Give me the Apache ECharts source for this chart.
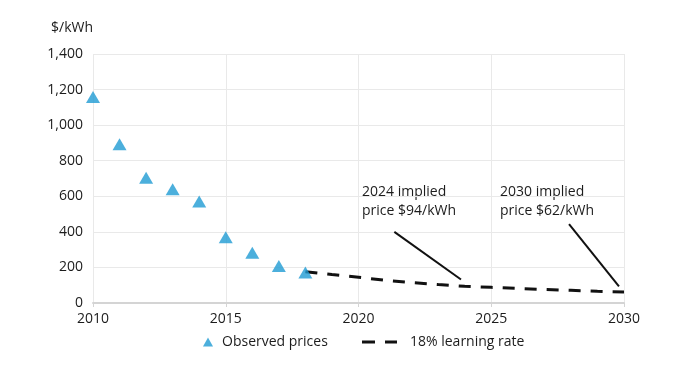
<!DOCTYPE html>
<html><head><meta charset="utf-8">
<script src="https://cdn.jsdelivr.net/npm/echarts@6/dist/echarts.min.js"></script>
<style>html,body{margin:0;padding:0;background:#fff}#c{width:680px;height:374px}</style>
</head><body><div id="c"></div>
<script>
const observedYears = [2010, 2011, 2012, 2013, 2014, 2015, 2016, 2017, 2018];
const observedPrices = [1158, 893, 704, 640, 571, 370, 282, 208, 171];
const learningYears = [2018, 2019, 2020, 2021, 2022, 2023, 2024, 2025, 2026, 2027, 2028, 2029, 2030];
const learningPrices = [176, 160, 145, 128, 115, 104, 94, 88, 82, 76, 71, 66, 62];
const xTicks = [2010, 2015, 2020, 2025, 2030];
const yTicks = [0, 200, 400, 600, 800, 1000, 1200, 1400];
const annotationTexts = ['2024 implied\nprice $94/kWh', '2030 implied\nprice $62/kWh'];
const pointerLines = [
  [[2021.35, 400], [2023.86, 132]],
  [[2027.93, 443], [2029.81, 94]]
];

const FONT = 'Open Sans';
const TXT = '#1c1c1c';
const chart = echarts.init(document.getElementById('c'), null, {renderer: 'canvas'});
chart.setOption({
  animation: false,
  backgroundColor: '#fff',
  textStyle: {fontFamily: FONT, color: TXT},
  grid: {left: 93, right: 56, top: 54, bottom: 71},
  xAxis: {
    type: 'value', min: xTicks[0], max: xTicks[xTicks.length - 1], interval: 5,
    axisLine: {show: true, lineStyle: {color: '#d4d4d4', width: 2}},
    axisTick: {show: true, length: 4, lineStyle: {color: '#d4d4d4'}},
    axisLabel: {margin: 9, fontSize: 14, color: TXT, fontFamily: FONT, formatter: v => String(v)},
    splitLine: {show: true, lineStyle: {color: '#e9e9e9', width: 1}}
  },
  yAxis: {
    type: 'value', min: yTicks[0], max: yTicks[yTicks.length - 1], interval: 200,
    name: '$/kWh', nameLocation: 'end', nameGap: 19,
    nameTextStyle: {align: 'right', fontSize: 14, color: TXT, fontFamily: FONT},
    axisLine: {show: false}, axisTick: {show: false},
    axisLabel: {margin: 10, fontSize: 14, color: TXT, fontFamily: FONT,
      formatter: v => v.toLocaleString('en-US')},
    splitLine: {show: true, lineStyle: {color: '#e9e9e9', width: 1}}
  },
  legend: [
    {data: [{name: 'Observed prices', icon: 'triangle'}], left: 198, top: 330,
     itemWidth: 10, itemHeight: 9, itemGap: 8,
     textStyle: {fontSize: 14, color: TXT, fontFamily: FONT, padding: [0, 0, 0, 4]}},
    {data: [{name: '18% learning rate', icon: 'path://M0,0H13V3H0Z M23,0H35V3H23Z'}], left: 357, top: 330,
     itemWidth: 35, itemHeight: 3,
     textStyle: {fontSize: 14, color: TXT, fontFamily: FONT, padding: [0, 0, 0, 8]}}
  ],
  series: [
    {
      name: '18% learning rate', type: 'line', z: 2,
      data: learningYears.map((y, i) => [y, learningPrices[i]]),
      symbol: 'none', smooth: false,
      itemStyle: {color: '#111'},
      lineStyle: {color: '#111', width: 3, type: [12, 10]},
      markLine: {
        silent: true, symbol: 'none', animation: false,
        label: {show: false},
        lineStyle: {color: '#111', width: 2, type: 'solid'},
        data: pointerLines.map(p => [{coord: p[0]}, {coord: p[1]}])
      }
    },
    {
      name: 'Observed prices', type: 'scatter', z: 3,
      data: observedYears.map((y, i) => [y, observedPrices[i]]),
      symbol: 'triangle', symbolSize: [14, 12],
      itemStyle: {color: '#1f9bd3'}
    }
  ],
  graphic: [
    {type: 'text', left: 362, top: 183, style: {text: annotationTexts[0], fontSize: 14, lineHeight: 18.5, fill: TXT, fontFamily: FONT}},
    {type: 'text', left: 500, top: 183, style: {text: annotationTexts[1], fontSize: 14, lineHeight: 18.5, fill: TXT, fontFamily: FONT}}
  ]
});
</script></body></html>
